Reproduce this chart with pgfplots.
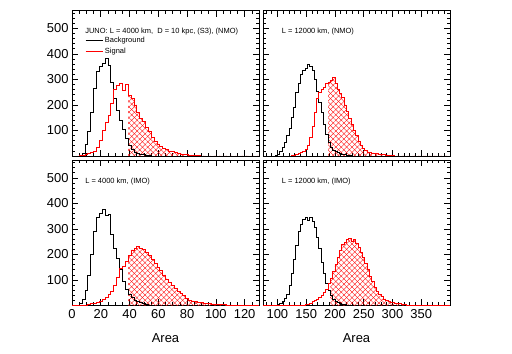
\documentclass[border=0pt]{standalone}
\usepackage{fontspec}
\setmainfont{Liberation Sans}
\usepackage{pgfplots}
\usepackage{pgfplotstable}
\pgfplotsset{compat=1.18}
\usetikzlibrary{patterns.meta}

% background / signal histograms, left bin edges
\pgfplotstableread{
x y
3 0
5 3
7 12
9 45
11 95
13 170
15 265
17 330
19 352
21 362
23 384
25 355
27 290
29 225
31 180
33 140
35 105
37 70
39 42
41 25
43 16
45 12
47 8
49 6
51 3
53 2
55 0
}\bgNL
\pgfplotstableread{
x y
0 0
5 2
7 4
9 6
11 10
13 14
15 20
17 34
19 62
21 100
23 130
25 160
27 205
29 262
31 275
33 283
35 258
37 280
39 238
41 225
43 200
45 170
47 148
49 135
51 112
53 95
55 72
57 58
59 44
61 36
63 30
65 25
67 20
69 17
71 13
73 10
75 8
77 6
79 5
81 4
83 3
85 2
87 1
89 0
130 0
}\sigNL
\pgfplotstableread{
x y
3 2
5 8
7 25
9 60
11 120
13 200
15 290
17 345
19 360
21 378
23 352
25 356
27 280
29 225
31 185
33 140
35 95
37 62
39 42
41 30
43 22
45 16
47 11
49 7
51 4
53 2
55 0
}\bgIL
\pgfplotstableread{
x y
0 0
9 2
11 4
13 7
15 10
17 14
19 18
21 24
23 33
25 42
27 55
29 80
31 110
33 145
35 155
37 172
39 195
41 218
43 222
45 230
47 224
49 220
51 208
53 198
55 182
57 165
59 150
61 138
63 120
65 104
67 92
69 80
71 68
73 56
75 46
77 38
79 28
81 22
83 18
85 15
87 13
89 11
91 10
93 8
95 7
97 6
99 6
101 5
103 4
105 3
107 2
109 2
111 1
113 0
130 0
}\sigIL
\pgfplotstableread{
x y
96 3
100 8
104 18
108 35
112 55
116 80
120 110
124 150
128 190
132 250
136 285
140 320
144 335
148 345
152 358
156 350
160 335
164 300
168 255
172 210
176 170
180 125
184 85
188 55
192 35
196 24
200 18
204 13
208 10
212 7
216 5
220 3
224 1
228 0
}\bgNH
\pgfplotstableread{
x y
75 0
124 2
128 4
132 6
136 9
140 14
144 20
148 28
152 40
156 75
160 115
164 170
168 225
172 250
176 262
180 270
184 284
188 290
192 296
196 308
200 285
204 262
208 245
212 228
216 200
220 175
224 148
228 125
232 100
236 80
240 58
244 40
248 30
252 22
256 16
260 14
264 12
268 10
272 9
276 8
280 6
284 5
288 4
292 3
296 2
300 1
304 0
400 0
}\sigNH
\pgfplotstableread{
x y
100 3
104 8
108 15
112 28
116 45
120 80
124 125
128 180
132 235
136 290
140 318
144 338
148 346
152 335
156 344
160 328
164 305
168 268
172 225
176 170
180 125
184 88
188 58
192 38
196 24
200 16
204 12
208 8
212 6
216 4
220 2
224 1
228 0
}\bgIH
\pgfplotstableread{
x y
75 0
148 3
152 6
156 10
160 15
164 20
168 26
172 32
176 40
180 50
184 65
188 85
192 108
196 135
200 160
204 190
208 215
212 238
216 248
220 258
224 264
228 252
232 258
236 245
240 228
244 210
248 190
252 165
256 140
260 115
264 95
268 72
272 55
276 42
280 34
284 26
288 20
292 16
296 14
300 12
304 10
308 9
312 7
316 5
320 3
324 0
400 0
}\sigIH

\tikzset{tag/.style={anchor=west, inner sep=0pt, font=\fontsize{7.5}{9}\selectfont}}
\pgfplotsset{
  panel/.style={
    scale only axis, anchor=south west,
    width=187bp, height=145.5bp,
    ymin=0, ymax=570,
    ytick={100,200,300,400,500},
    minor ytick={20,40,...,560},
    tick align=inside, xtick pos=both, ytick pos=both,
    major tick length=6bp, minor tick length=3bp,
    tick style={black, line width=0.6bp},
    axis line style={line width=0.8bp},
    tick label style={font=\fontsize{13}{15}\selectfont},
    /pgf/number format/assume math mode=true,
    xlabel style={font=\fontsize{13}{15}\selectfont, yshift=-9bp},
    legend style={draw=none, fill=none, inner sep=0pt,
      font=\fontsize{7.5}{9}\selectfont},
    legend cell align=left,
    legend image code/.code={\draw[##1] (0bp,0bp) -- (17bp,0bp);},
  },
  leftx/.style={xmin=0, xmax=130, xtick={0,20,...,120}, minor xtick={5,10,...,130}},
  rightx/.style={xmin=75, xmax=400, xtick={100,150,...,350}, minor xtick={80,90,...,400}},
  bgline/.style={const plot mark left, black, line width=0.7bp, mark=none},
  sigline/.style={const plot mark left, red, line width=0.7bp, mark=none},
  hatch/.style={const plot mark left, draw=none, forget plot, pattern color=red,
    pattern={Lines[angle=#1,distance=3.8bp,line width=0.35bp]}},
}

\begin{document}
\begin{tikzpicture}
\path[use as bounding box] (0,0) rectangle (512bp,354bp);

% top left
\begin{axis}[panel, leftx, at={(72bp,198bp)}, xticklabels={},
  legend style={at={(axis description cs:0.07,0.835)}, anchor=north west}]
\addplot[hatch=45, restrict x to domain=39:130] table {\sigNL} \closedcycle;
\addplot[hatch=-45, restrict x to domain=39:130] table {\sigNL} \closedcycle;
\addplot[bgline] table {\bgNL};
\addplot[sigline] table {\sigNL};
\legend{Background, Signal}
\node[tag] at (axis description cs:0.07,0.855) {JUNO: L = 4000 km,\ \ D = 10 kpc, (S3), (NMO)};
\end{axis}

% top right
\begin{axis}[panel, rightx, at={(263bp,198bp)}, xticklabels={}, yticklabels={}]
\addplot[hatch=45, restrict x to domain=188:400] table {\sigNH} \closedcycle;
\addplot[hatch=-45, restrict x to domain=188:400] table {\sigNH} \closedcycle;
\addplot[bgline] table {\bgNH};
\addplot[sigline] table {\sigNH};
\node[tag] at (axis description cs:0.1,0.855) {L = 12000 km, (NMO)};
\end{axis}

% bottom left
\begin{axis}[panel, leftx, at={(72bp,48.5bp)}, xlabel={Area}]
\addplot[hatch=45, restrict x to domain=39:130] table {\sigIL} \closedcycle;
\addplot[hatch=-45, restrict x to domain=39:130] table {\sigIL} \closedcycle;
\addplot[bgline] table {\bgIL};
\addplot[sigline] table {\sigIL};
\node[tag] at (axis description cs:0.07,0.855) {L = 4000 km, (IMO)};
\end{axis}

% bottom right
\begin{axis}[panel, rightx, at={(263bp,48.5bp)}, yticklabels={}, xlabel={Area}]
\addplot[hatch=45, restrict x to domain=192:400] table {\sigIH} \closedcycle;
\addplot[hatch=-45, restrict x to domain=192:400] table {\sigIH} \closedcycle;
\addplot[bgline] table {\bgIH};
\addplot[sigline] table {\sigIH};
\node[tag] at (axis description cs:0.1,0.855) {L = 12000 km, (IMO)};
\end{axis}
\end{tikzpicture}
\end{document}
